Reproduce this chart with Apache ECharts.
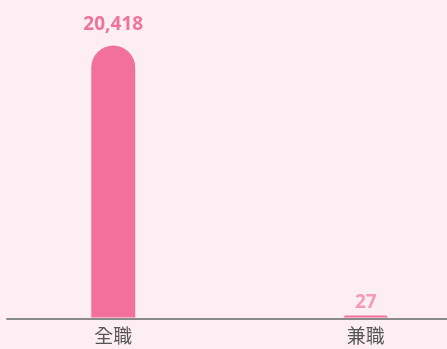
<!DOCTYPE html>
<html>
<head>
<meta charset="utf-8">
<style>
  html, body { margin: 0; padding: 0; background: #fdeef3; }
  #chart { width: 447px; height: 349px; }
</style>
<script src="https://cdn.jsdelivr.net/npm/echarts@6/dist/echarts.min.js"></script>
</head>
<body>
<div id="chart"></div>
<script>
// Employment type counts
const categories = ['全職', '兼職'];
const counts = [20418, 27];

const barColor = '#f2719c';
const labelColors = ['#f07399', '#f59bb9'];
const labelDistances = [11, 3];

const chart = echarts.init(document.getElementById('chart'), null, { renderer: 'canvas' });

const seriesData = counts.map((v, i) => ({
  value: v,
  label: { color: labelColors[i], distance: labelDistances[i] }
}));

chart.setOption({
  backgroundColor: '#fdeef3',
  animation: false,
  grid: [
    { left: -13, right: -45, top: 45.5, bottom: 31.5, outerBoundsMode: 'none', containLabel: false },
    { left: 7, right: 0, top: 45.5, bottom: 30.5, outerBoundsMode: 'none', containLabel: false }
  ],
  xAxis: [
    {
      type: 'category',
      gridIndex: 0,
      data: categories,
      axisLine: { show: false },
      axisTick: { show: false },
      axisLabel: {
        margin: 9,
        fontSize: 19,
        color: '#555555',
        fontFamily: '"Noto Sans CJK TC", "Noto Sans", sans-serif'
      }
    },
    {
      type: 'category',
      gridIndex: 1,
      data: categories,
      axisLine: { show: true, lineStyle: { color: '#8a8a8a', width: 2 } },
      axisTick: { show: false },
      axisLabel: { show: false }
    }
  ],
  yAxis: [
    { type: 'value', gridIndex: 0, min: 0, max: 'dataMax', show: false },
    { type: 'value', gridIndex: 1, show: false }
  ],
  series: [{
    type: 'bar',
    xAxisIndex: 0,
    yAxisIndex: 0,
    data: seriesData,
    barWidth: 44,
    barMinHeight: 2,
    itemStyle: { color: barColor, borderRadius: [22, 22, 0, 0] },
    label: {
      show: true,
      position: 'top',
      fontSize: 19,
      fontWeight: 'bold',
      fontFamily: '"Noto Sans", sans-serif',
      formatter: p => p.value.toLocaleString('en-US')
    }
  }]
});
</script>
</body>
</html>
